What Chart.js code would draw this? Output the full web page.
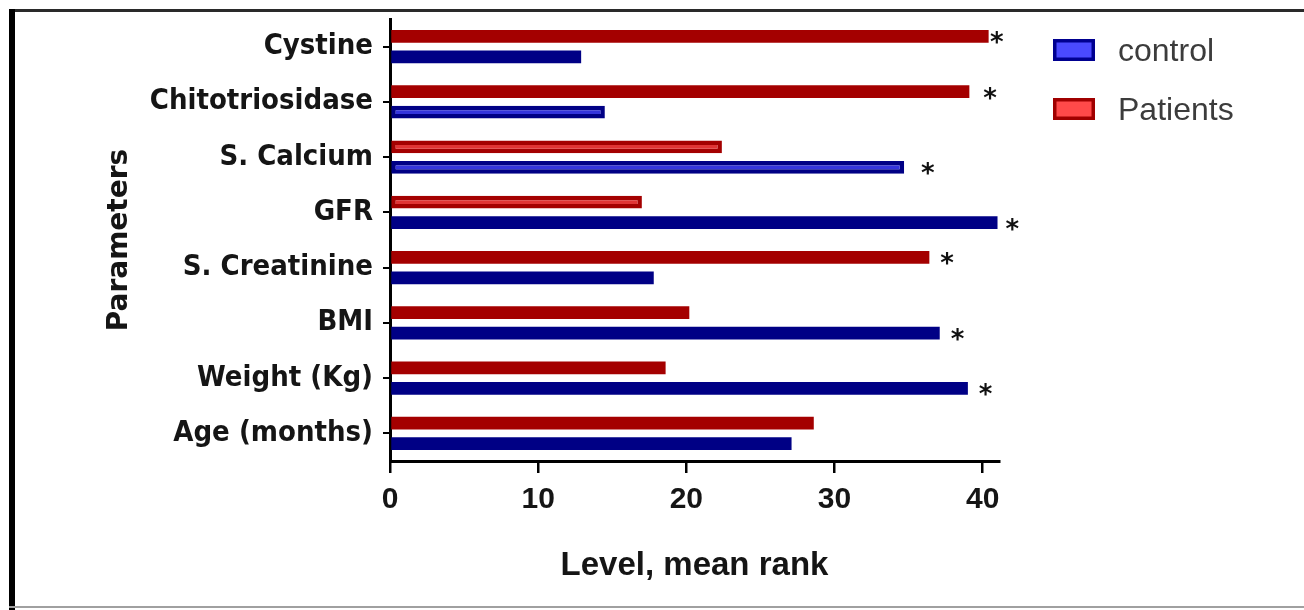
<!DOCTYPE html>
<html>
<head>
<meta charset="utf-8">
<title>Mean rank of parameters: control vs patients</title>
<script src="https://cdn.jsdelivr.net/npm/chart.js@4.4.1/dist/chart.umd.min.js"></script>
<style>
  html, body { margin: 0; padding: 0; background: #ffffff; }
  #wrap { position: relative; width: 1304px; height: 610px; }
  canvas { display: block; }
</style>
</head>
<body>
<div id="wrap"><canvas id="chart" width="1304" height="610"></canvas></div>
<script>
// Parameters compared between the two groups (top to bottom)
const categories = ['Cystine', 'Chitotriosidase', 'S. Calcium', 'GFR', 'S. Creatinine', 'BMI', 'Weight (Kg)', 'Age (months)'];
// Mean rank per parameter
const patients = [40.4, 39.1, 22.4, 17.0, 36.4, 20.2, 18.6, 28.6];
const control  = [12.9, 14.5, 34.7, 41.0, 17.8, 37.1, 39.0, 27.1];
// Value-axis tick labels
const xTicks = [0, 10, 20, 30, 40];
// Significance stars: which group's bar carries the star and where it sits on the value axis
const starGroup = ['Patients', 'Patients', 'control', 'control', 'Patients', 'control', 'control', null];
const starValue = [40.95, 40.5, 36.3, 42.0, 37.6, 38.3, 40.2, null];

// Bars drawn as outline + lighter core (the rest are solid)
const patientsOutlined = [false, false, true, true, false, false, false, false];
const controlOutlined  = [false, true, true, false, false, false, false, false];

const RED_DARK = '#a40000', RED_LIGHT = '#e03434';
const BLUE_DARK = '#000085', BLUE_LIGHT = '#3434dc';

const decor = {
  id: 'decor',
  beforeDraw(chart) {
    const ctx = chart.ctx;
    ctx.save();
    // page frame
    ctx.fillStyle = '#2a2a2a';
    ctx.fillRect(9, 9, 1295, 3);
    ctx.fillStyle = '#000000';
    ctx.fillRect(9, 9, 6, 601);
    ctx.fillStyle = '#a0a0a0';
    ctx.fillRect(9, 606, 1295, 2);
    ctx.restore();
  },
  afterDraw(chart) {
    const ctx = chart.ctx;
    const xs = chart.scales.x;
    ctx.save();
    // significance stars
    ctx.fillStyle = '#111111';
    ctx.font = 'bold 26px "DejaVu Sans"';
    ctx.textAlign = 'center';
    ctx.textBaseline = 'alphabetic';
    starValue.forEach((v, i) => {
      if (v === null) return;
      const di = chart.data.datasets.findIndex(d => d.label === starGroup[i]);
      const bar = chart.getDatasetMeta(di).data[i];
      ctx.fillText('*', xs.getPixelForValue(v), bar.y + 15);
    });
    // legend (control listed first)
    const items = chart.data.datasets.slice().reverse();
    ctx.font = '32px "Liberation Sans", Arial, sans-serif';
    ctx.textAlign = 'left';
    items.forEach((ds, k) => {
      const top = 39 + k * 59;
      ctx.fillStyle = ds.legendFill;
      ctx.fillRect(1053, top, 42, 22);
      ctx.strokeStyle = ds.legendEdge;
      ctx.lineWidth = 3.5;
      ctx.strokeRect(1054.75, top + 1.75, 38.5, 18.5);
      ctx.fillStyle = '#3c3c3c';
      ctx.fillText(ds.label, 1118, top + 22);
    });
    ctx.restore();
  }
};

const tickFont = { family: "'DejaVu Sans Condensed', 'DejaVu Sans', sans-serif", size: 29, weight: 'bold' };
const sans = "'Liberation Sans', Arial, sans-serif";

new Chart(document.getElementById('chart'), {
  type: 'bar',
  data: {
    labels: categories,
    datasets: [
      {
        label: 'Patients',
        data: patients,
        backgroundColor: c => patientsOutlined[c.dataIndex] ? RED_LIGHT : RED_DARK,
        borderColor: RED_DARK,
        borderWidth: c => patientsOutlined[c.dataIndex] ? 4.5 : 0,
        borderSkipped: false,
        legendFill: '#ff4a4a', legendEdge: '#a00000',
        categoryPercentage: 0.742,
        barPercentage: 0.62
      },
      {
        label: 'control',
        data: control,
        backgroundColor: c => controlOutlined[c.dataIndex] ? BLUE_LIGHT : BLUE_DARK,
        borderColor: BLUE_DARK,
        borderWidth: c => controlOutlined[c.dataIndex] ? 4.5 : 0,
        borderSkipped: false,
        legendFill: '#4a4aff', legendEdge: '#000090',
        categoryPercentage: 0.742,
        barPercentage: 0.62
      }
    ]
  },
  options: {
    indexAxis: 'y',
    responsive: false,
    animation: false,
    devicePixelRatio: 1,
    layout: { padding: { left: 95, top: 19, right: 305, bottom: 10 } },
    plugins: {
      legend: { display: false },
      tooltip: { enabled: false }
    },
    scales: {
      x: {
        type: 'linear',
        min: 0,
        max: 41.1,
        afterBuildTicks(s) { s.ticks = xTicks.map(v => ({ value: v })); },
        grid: { drawOnChartArea: false, drawTicks: true, tickLength: 12, color: '#000', lineWidth: 2.5 },
        border: { display: true, color: '#000', width: 3 },
        ticks: { font: { family: sans, size: 30, weight: 'bold' }, color: '#151515', padding: 9, maxRotation: 0 },
        title: {
          display: true,
          text: 'Level, mean rank',
          font: { family: sans, size: 33, weight: 'bold' },
          color: '#151515',
          padding: { top: 0, bottom: 14 }
        },
        afterFit(s) { s.height = 139; s.paddingLeft = 0; s.paddingRight = 0; }
      },
      y: {
        type: 'category',
        grid: { offset: false, drawOnChartArea: false, drawTicks: true, tickLength: 7, color: '#000', lineWidth: 2 },
        border: { display: true, color: '#000', width: 3 },
        ticks: { font: tickFont, color: '#151515', padding: 10 },
        title: {
          display: true,
          text: 'Parameters',
          font: { family: "'DejaVu Sans', sans-serif", size: 28, weight: 'bold' },
          color: '#151515',
          padding: { top: 8, bottom: 0 }
        },
        afterFit(s) { s.width = 295; s.paddingTop = 0; s.paddingBottom = 0; }
      }
    }
  },
  plugins: [decor]
});
</script>
</body>
</html>
